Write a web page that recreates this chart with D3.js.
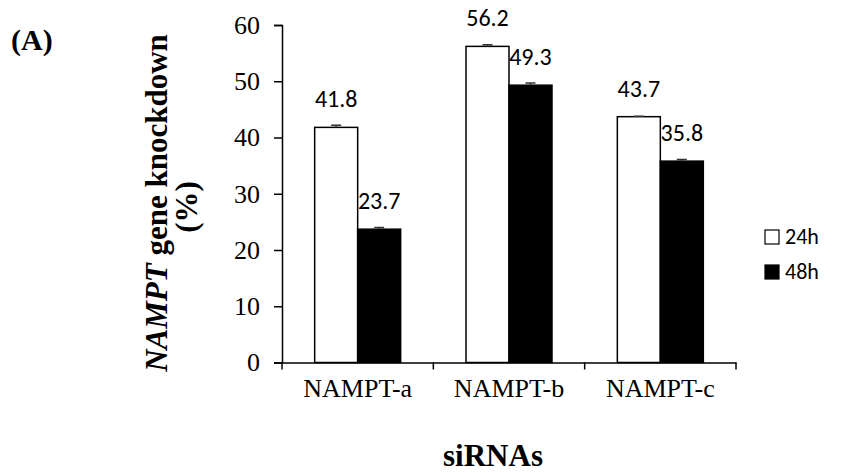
<!DOCTYPE html>
<html>
<head>
<meta charset="utf-8">
<script src="https://cdn.jsdelivr.net/npm/d3@7"></script>
<style>
  body { margin: 0; background: #fff; }
  svg { display: block; }
</style>
</head>
<body>
<svg id="chart" width="849" height="473"></svg>
<script>
// siRNA knockdown data
const categories = ["NAMPT-a", "NAMPT-b", "NAMPT-c"];
const seriesNames = ["24h", "48h"];
const values24h = [41.8, 56.2, 43.7];
const values48h = [23.7, 49.3, 35.8];
const errors24h = [0.4, 0.3, 0.1];
const errors48h = [0.3, 0.4, 0.3];
const yTicks = [0, 10, 20, 30, 40, 50, 60];

const svg = d3.select("#chart");
const plotLeft = 282, plotRight = 736, plotTop = 25, plotBottom = 362.5;

const serif = "'Liberation Serif', 'Times New Roman', serif";
const sans = "Carlito, Calibri, Lato, sans-serif";

const x0 = d3.scaleBand().domain(categories).range([plotLeft, plotRight]).paddingInner(0).paddingOuter(0);
const x1 = d3.scaleBand().domain(seriesNames).range([0, x0.bandwidth()]).paddingInner(0).paddingOuter(0.76);
const y = d3.scaleLinear().domain([0, 60]).range([plotBottom, plotTop]);

const rows = categories.map((c, i) => ({
  cat: c,
  bars: [
    { s: "24h", v: values24h[i], e: errors24h[i], fill: "#fff" },
    { s: "48h", v: values48h[i], e: errors48h[i], fill: "#000" }
  ]
}));

// value labels (drawn first so the bars sit over them)
const labels = svg.append("g");
rows.forEach(r => r.bars.forEach(b => {
  labels.append("text")
    .attr("x", x0(r.cat) + x1(b.s) + x1.bandwidth() / 2)
    .attr("y", y(b.v) - 20)
    .attr("text-anchor", "middle")
    .attr("font-family", sans)
    .attr("font-size", 24)
    .attr("fill", "#000")
    .text(b.v.toFixed(1));
}));

// bars
const groups = svg.append("g").selectAll("g").data(rows).join("g")
  .attr("transform", d => `translate(${x0(d.cat)},0)`);
groups.selectAll("rect").data(d => d.bars).join("rect")
  .attr("x", d => x1(d.s))
  .attr("y", d => y(d.v))
  .attr("width", x1.bandwidth())
  .attr("height", d => y(0) - y(d.v))
  .attr("fill", d => d.fill)
  .attr("stroke", "#000")
  .attr("stroke-width", 1.5);

// error bars (upper half)
groups.selectAll("path.err").data(d => d.bars).join("path")
  .attr("class", "err")
  .attr("d", d => {
    const cx = x1(d.s) + x1.bandwidth() / 2;
    return `M${cx},${y(d.v)}V${y(d.v + d.e)}M${cx - 5},${y(d.v + d.e)}H${cx + 5}`;
  })
  .attr("stroke", "#333")
  .attr("stroke-width", 1.5)
  .attr("fill", "none");

// y axis
const yAxis = svg.append("g")
  .attr("transform", `translate(${plotLeft},0)`)
  .call(d3.axisLeft(y).tickValues(yTicks).tickSize(8).tickPadding(14));
yAxis.select(".domain").attr("stroke-width", 1.5);
yAxis.selectAll(".tick line").attr("stroke-width", 1.5);
yAxis.selectAll("text").attr("font-family", serif).attr("font-size", 26).attr("fill", "#000");

// x axis
const xAxis = svg.append("g")
  .attr("transform", `translate(0,${plotBottom})`)
  .call(d3.axisBottom(x0).tickSize(0).tickPadding(16));
xAxis.select(".domain").attr("stroke-width", 1.5);
xAxis.selectAll("text").attr("font-family", serif).attr("font-size", 26).attr("fill", "#000");
xAxis.selectAll("line.cat-sep").data([plotLeft, ...categories.map(c => x0(c) + x0.bandwidth())]).join("line")
  .attr("class", "cat-sep")
  .attr("x1", d => d).attr("x2", d => d)
  .attr("y1", 0).attr("y2", 7)
  .attr("stroke", "#000").attr("stroke-width", 1.5);

// axis titles
svg.append("text")
  .attr("x", 493)
  .attr("y", 466)
  .attr("text-anchor", "middle")
  .attr("font-family", serif)
  .attr("font-weight", "bold")
  .attr("font-size", 31)
  .text("siRNAs");

const yTitle = svg.append("text")
  .attr("transform", "translate(167,203) rotate(-90)")
  .attr("text-anchor", "middle")
  .attr("font-family", serif)
  .attr("font-weight", "bold")
  .attr("font-size", 31);
yTitle.append("tspan").attr("font-style", "italic").text("NAMPT");
yTitle.append("tspan").text(" gene knockdown");
svg.append("text")
  .attr("transform", "translate(197,207) rotate(-90)")
  .attr("text-anchor", "middle")
  .attr("font-family", serif)
  .attr("font-weight", "bold")
  .attr("font-size", 31)
  .text("(%)");

// panel label
svg.append("text")
  .attr("x", 11).attr("y", 50)
  .attr("font-family", serif)
  .attr("font-weight", "bold")
  .attr("font-size", 30)
  .text("(A)");

// legend
const legend = svg.append("g").selectAll("g").data(seriesNames).join("g")
  .attr("transform", (d, i) => `translate(765,${230 + i * 35})`);
legend.append("rect")
  .attr("x", 0).attr("y", 0).attr("width", 14).attr("height", 14)
  .attr("fill", (d, i) => i === 0 ? "#fff" : "#000")
  .attr("stroke", "#000").attr("stroke-width", 1.2);
legend.append("text")
  .attr("x", 20).attr("y", 14)
  .attr("font-family", sans)
  .attr("font-size", 22)
  .text(d => d);
</script>
</body>
</html>
